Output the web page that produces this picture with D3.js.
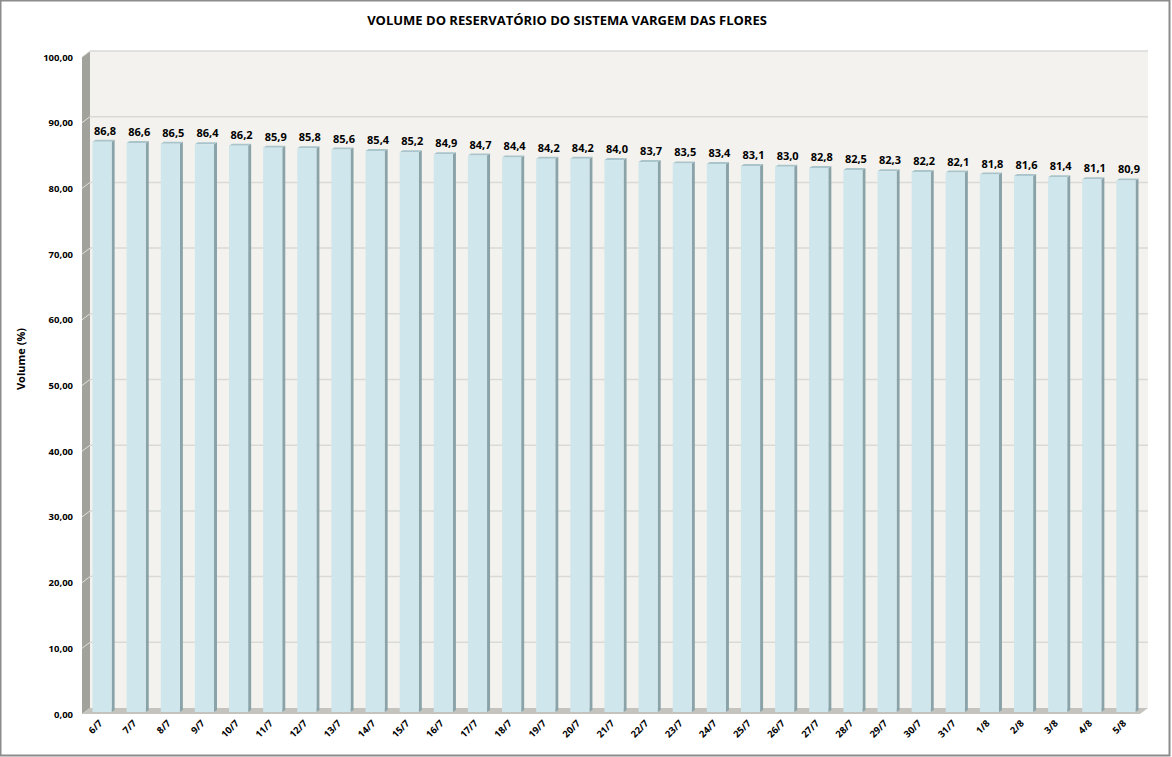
<!DOCTYPE html>
<html>
<head>
<meta charset="utf-8">
<script src="https://cdn.jsdelivr.net/npm/d3@7"></script>
<style>
  body { margin: 0; background: #fff; }
  text { font-family: "Open Sans", "DejaVu Sans", sans-serif; font-weight: bold; fill: #000; }
</style>
</head>
<body>
<div class="chart"></div>
<script>
const days = ['6/7','7/7','8/7','9/7','10/7','11/7','12/7','13/7','14/7','15/7','16/7','17/7','18/7','19/7','20/7',
  '21/7','22/7','23/7','24/7','25/7','26/7','27/7','28/7','29/7','30/7','31/7','1/8','2/8','3/8','4/8','5/8'];
const volume = [86.8,86.6,86.5,86.4,86.2,85.9,85.8,85.6,85.4,85.2,84.9,84.7,84.4,84.2,84.2,
  84.0,83.7,83.5,83.4,83.1,83.0,82.8,82.5,82.3,82.2,82.1,81.8,81.6,81.4,81.1,80.9];
const yTicks = [0,10,20,30,40,50,60,70,80,90,100];

const W = 1172, H = 757;
const pLeft = 82, pRight = 1140, pBottom = 714, pTop = 57;
const dx = 8, dy = -6;      // wall depth
const bdx = 3, bdy = -2;    // bar offset into depth
const fmt = v => d3.format('.2f')(v).replace('.', ',');
const fmt1 = v => d3.format('.1f')(v).replace('.', ',');

const svg = d3.select('.chart').append('svg')
  .attr('width', W).attr('height', H);

svg.append('rect').attr('x', 0.5).attr('y', 0.5).attr('width', W - 3).attr('height', H - 2)
  .attr('fill', '#fff').attr('stroke', '#8c8c8c').attr('stroke-width', 2);

const x = d3.scaleBand().domain(days).range([pLeft, pRight]).paddingInner(0.44).paddingOuter(0.22);
const y = d3.scaleLinear().domain([0, 100]).range([pBottom, pTop]);

// back wall
svg.append('rect')
  .attr('x', pLeft + dx).attr('y', pTop + dy)
  .attr('width', pRight - pLeft).attr('height', pBottom - pTop)
  .attr('fill', '#f3f2ee');

// gridlines on back wall
svg.append('g').selectAll('line').data(yTicks.slice(1)).join('line')
  .attr('x1', pLeft + dx).attr('x2', pRight + dx)
  .attr('y1', d => y(d) + dy).attr('y2', d => y(d) + dy)
  .attr('stroke', '#d9d9d6').attr('stroke-width', 1.5);

// side wall
svg.append('path')
  .attr('d', `M${pLeft},${pBottom}L${pLeft},${pTop}L${pLeft + dx},${pTop + dy}L${pLeft + dx},${pBottom + dy}Z`)
  .attr('fill', '#a2a29c');

// gridline ticks on side wall
svg.append('g').selectAll('line').data(yTicks.slice(1)).join('line')
  .attr('x1', pLeft).attr('x2', pLeft + dx)
  .attr('y1', d => y(d)).attr('y2', d => y(d) + dy)
  .attr('stroke', '#e2e2de').attr('stroke-width', 1);

// floor
svg.append('path')
  .attr('d', `M${pLeft},${pBottom}L${pRight},${pBottom}L${pRight + dx},${pBottom + dy}L${pLeft + dx},${pBottom + dy}Z`)
  .attr('fill', '#c4c3be');

// bars
const bw = x.bandwidth();
const sd = 3; // bar side depth
const bars = svg.append('g').selectAll('g').data(days).join('g');

bars.append('path')
  .attr('d', (d, i) => {
    const x0 = x(d) + bdx + bw, y0 = y(volume[i]) + bdy, yb = pBottom + bdy;
    return `M${x0},${yb}L${x0},${y0}L${x0 + sd},${y0 - 2}L${x0 + sd},${yb - 2}Z`;
  })
  .attr('fill', '#89a3a8');

bars.append('path')
  .attr('d', (d, i) => {
    const x0 = x(d) + bdx, y0 = y(volume[i]) + bdy;
    return `M${x0},${y0}L${x0 + sd},${y0 - 2}L${x0 + bw + sd},${y0 - 2}L${x0 + bw},${y0}Z`;
  })
  .attr('fill', '#a9c5cb');

bars.append('rect')
  .attr('x', d => x(d) + bdx)
  .attr('y', (d, i) => y(volume[i]) + bdy)
  .attr('width', bw)
  .attr('height', (d, i) => pBottom - y(volume[i]))
  .attr('fill', '#cfe6ec');

// value labels
bars.append('text')
  .attr('x', d => x(d) + bdx + bw / 2 + 3)
  .attr('y', (d, i) => y(volume[i]) + bdy - 7)
  .attr('text-anchor', 'middle')
  .attr('font-size', 11)
  .text((d, i) => fmt1(volume[i]));

// y axis labels
svg.append('g').selectAll('text').data(yTicks).join('text')
  .attr('x', 73).attr('y', d => y(d) + 3.5)
  .attr('text-anchor', 'end')
  .attr('font-size', 9.5)
  .text(fmt);

// x axis labels
svg.append('g').selectAll('text').data(days).join('text')
  .attr('transform', d => `translate(${x(d) + bdx + bw / 2 + 1},${pBottom + 10}) rotate(-45)`)
  .attr('text-anchor', 'end')
  .attr('font-size', 9.5)
  .text(d => d);

// title
svg.append('text')
  .attr('x', 567).attr('y', 25)
  .attr('text-anchor', 'middle')
  .attr('font-size', 13)
  .text('VOLUME DO RESERVATÓRIO DO SISTEMA VARGEM DAS FLORES');

// y axis title
svg.append('text')
  .attr('transform', 'translate(25,359) rotate(-90)')
  .attr('text-anchor', 'middle')
  .attr('font-size', 11)
  .text('Volume (%)');
</script>
</body>
</html>
